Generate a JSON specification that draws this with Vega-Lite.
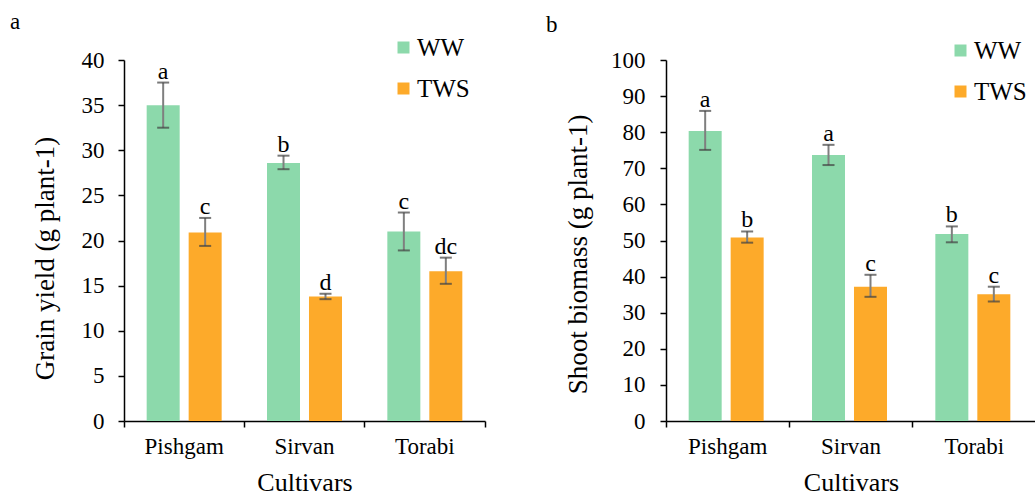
{
  "$schema": "https://vega.github.io/schema/vega-lite/v6.json",
  "background": "white",
  "padding": {"left": 10, "top": 11, "right": 0, "bottom": 0},
  "spacing": 60,
  "config": {
    "view": {"stroke": null},
    "font": "Liberation Serif",
    "axis": {
      "labelFont": "Liberation Serif", "titleFont": "Liberation Serif",
      "labelFontSize": 23, "titleFontSize": 27, "titleFontWeight": "normal",
      "labelColor": "black", "titleColor": "black",
      "domainColor": "black", "tickColor": "black",
      "domainWidth": 1.5, "tickWidth": 1.5, "tickSize": 6, "grid": false, "labelOverlap": false
    },
    "legend": {
      "labelFont": "Liberation Serif", "labelFontSize": 25, "labelColor": "black",
      "symbolType": "square", "symbolSize": 144, "symbolStrokeWidth": 0, "symbolOpacity": 1,
      "rowPadding": 15, "labelOffset": 1, "padding": 0, "offset": 0
    },
    "title": {"font": "Liberation Serif", "fontSize": 23, "fontWeight": "normal", "color": "black", "anchor": "start", "frame": "group"}
  },
  "resolve": {"scale": {"color": "independent"}},
  "hconcat": [
    {
      "width": 361, "height": 361,
      "title": {"text": "a", "dx": -114, "dy": 3},
      "data": {"values": [
        {"cultivar": "Pishgam", "treatment": "WW", "mean": 35.0, "lo": 32.5, "hi": 37.5, "letter": "a"},
        {"cultivar": "Pishgam", "treatment": "TWS", "mean": 20.9, "lo": 19.4, "hi": 22.5, "letter": "c"},
        {"cultivar": "Sirvan", "treatment": "WW", "mean": 28.6, "lo": 27.9, "hi": 29.4, "letter": "b"},
        {"cultivar": "Sirvan", "treatment": "TWS", "mean": 13.8, "lo": 13.5, "hi": 14.1, "letter": "d"},
        {"cultivar": "Torabi", "treatment": "WW", "mean": 21.0, "lo": 18.9, "hi": 23.1, "letter": "c"},
        {"cultivar": "Torabi", "treatment": "TWS", "mean": 16.6, "lo": 15.2, "hi": 18.1, "letter": "dc"}
      ]},
      "encoding": {
        "x": {"field": "cultivar", "type": "nominal", "title": "Cultivars",
              "scale": {"paddingInner": 0, "paddingOuter": 0},
              "axis": {"labelAngle": 0, "bandPosition": 1, "tickExtra": true, "labelPadding": 8, "titlePadding": 11, "titleFontSize": 26}},
        "xOffset": {"field": "treatment", "type": "nominal", "scale": {"domain": ["WW", "TWS"], "paddingInner": 0.214, "paddingOuter": 0.54}}
      },
      "layer": [
        {"mark": {"type": "bar"},
         "encoding": {
           "y": {"field": "mean", "type": "quantitative", "title": "Grain yield (g plant-1)",
                 "scale": {"domain": [0, 40]},
                 "axis": {"values": [0, 5, 10, 15, 20, 25, 30, 35, 40], "labelPadding": 14, "titlePadding": 22, "titleY": 198}},
           "color": {"field": "treatment", "type": "nominal",
                     "scale": {"domain": ["WW", "TWS"], "range": ["#8CD9AB", "#FDAA2A"]},
                     "legend": {"title": null, "orient": "none", "legendX": 267, "legendY": -25}}
         }},
        {"mark": {"type": "rule", "color": "#7f7f7f", "strokeWidth": 2},
         "encoding": {"y": {"field": "lo", "type": "quantitative", "title": "Grain yield (g plant-1)", "scale": {"domain": [0, 40]},
                 "axis": {"values": [0, 5, 10, 15, 20, 25, 30, 35, 40], "labelPadding": 14, "titlePadding": 22, "titleY": 198}}, "y2": {"field": "hi"}}},
        {"mark": {"type": "tick", "color": "#404040", "thickness": 2, "size": 12},
         "encoding": {"y": {"field": "lo", "type": "quantitative", "title": "Grain yield (g plant-1)", "scale": {"domain": [0, 40]},
                 "axis": {"values": [0, 5, 10, 15, 20, 25, 30, 35, 40], "labelPadding": 14, "titlePadding": 22, "titleY": 198}}}},
        {"mark": {"type": "tick", "color": "#404040", "thickness": 2, "size": 12},
         "encoding": {"y": {"field": "hi", "type": "quantitative", "title": "Grain yield (g plant-1)", "scale": {"domain": [0, 40]},
                 "axis": {"values": [0, 5, 10, 15, 20, 25, 30, 35, 40], "labelPadding": 14, "titlePadding": 22, "titleY": 198}}}},
        {"mark": {"type": "text", "baseline": "alphabetic", "dy": -4, "fontSize": 24, "font": "Liberation Serif", "color": "black"},
         "encoding": {"y": {"field": "hi", "type": "quantitative", "title": "Grain yield (g plant-1)", "scale": {"domain": [0, 40]},
                 "axis": {"values": [0, 5, 10, 15, 20, 25, 30, 35, 40], "labelPadding": 14, "titlePadding": 22, "titleY": 198}}, "text": {"field": "letter"}}}
      ]
    },
    {
      "width": 370, "height": 361,
      "title": {"text": "b", "dx": -120, "dy": 3},
      "data": {"values": [
        {"cultivar": "Pishgam", "treatment": "WW", "mean": 80.3, "lo": 75.1, "hi": 85.9, "letter": "a"},
        {"cultivar": "Pishgam", "treatment": "TWS", "mean": 50.8, "lo": 49.4, "hi": 52.5, "letter": "b"},
        {"cultivar": "Sirvan", "treatment": "WW", "mean": 73.7, "lo": 70.9, "hi": 76.5, "letter": "a"},
        {"cultivar": "Sirvan", "treatment": "TWS", "mean": 37.2, "lo": 34.4, "hi": 40.5, "letter": "c"},
        {"cultivar": "Torabi", "treatment": "WW", "mean": 51.8, "lo": 49.5, "hi": 53.9, "letter": "b"},
        {"cultivar": "Torabi", "treatment": "TWS", "mean": 35.1, "lo": 33.1, "hi": 37.2, "letter": "c"}
      ]},
      "encoding": {
        "x": {"field": "cultivar", "type": "nominal", "title": "Cultivars",
              "scale": {"paddingInner": 0, "paddingOuter": 0},
              "axis": {"labelAngle": 0, "bandPosition": 1, "tickExtra": true, "labelPadding": 8, "titlePadding": 11, "titleFontSize": 26}},
        "xOffset": {"field": "treatment", "type": "nominal", "scale": {"domain": ["WW", "TWS"], "paddingInner": 0.214, "paddingOuter": 0.54}}
      },
      "layer": [
        {"mark": {"type": "bar"},
         "encoding": {
           "y": {"field": "mean", "type": "quantitative", "title": "Shoot biomass (g plant-1)",
                 "scale": {"domain": [0, 100]},
                 "axis": {"values": [0, 10, 20, 30, 40, 50, 60, 70, 80, 90, 100], "labelPadding": 15, "titlePadding": 18, "titleY": 194}},
           "color": {"field": "treatment", "type": "nominal",
                     "scale": {"domain": ["WW", "TWS"], "range": ["#8CD9AB", "#FDAA2A"]},
                     "legend": {"title": null, "orient": "none", "legendX": 282, "legendY": -22}}
         }},
        {"mark": {"type": "rule", "color": "#7f7f7f", "strokeWidth": 2},
         "encoding": {"y": {"field": "lo", "type": "quantitative", "title": "Shoot biomass (g plant-1)", "scale": {"domain": [0, 100]},
                 "axis": {"values": [0, 10, 20, 30, 40, 50, 60, 70, 80, 90, 100], "labelPadding": 15, "titlePadding": 18, "titleY": 194}}, "y2": {"field": "hi"}}},
        {"mark": {"type": "tick", "color": "#404040", "thickness": 2, "size": 12},
         "encoding": {"y": {"field": "lo", "type": "quantitative", "title": "Shoot biomass (g plant-1)", "scale": {"domain": [0, 100]},
                 "axis": {"values": [0, 10, 20, 30, 40, 50, 60, 70, 80, 90, 100], "labelPadding": 15, "titlePadding": 18, "titleY": 194}}}},
        {"mark": {"type": "tick", "color": "#404040", "thickness": 2, "size": 12},
         "encoding": {"y": {"field": "hi", "type": "quantitative", "title": "Shoot biomass (g plant-1)", "scale": {"domain": [0, 100]},
                 "axis": {"values": [0, 10, 20, 30, 40, 50, 60, 70, 80, 90, 100], "labelPadding": 15, "titlePadding": 18, "titleY": 194}}}},
        {"mark": {"type": "text", "baseline": "alphabetic", "dy": -4, "fontSize": 24, "font": "Liberation Serif", "color": "black"},
         "encoding": {"y": {"field": "hi", "type": "quantitative", "title": "Shoot biomass (g plant-1)", "scale": {"domain": [0, 100]},
                 "axis": {"values": [0, 10, 20, 30, 40, 50, 60, 70, 80, 90, 100], "labelPadding": 15, "titlePadding": 18, "titleY": 194}}, "text": {"field": "letter"}}}
      ]
    }
  ]
}
